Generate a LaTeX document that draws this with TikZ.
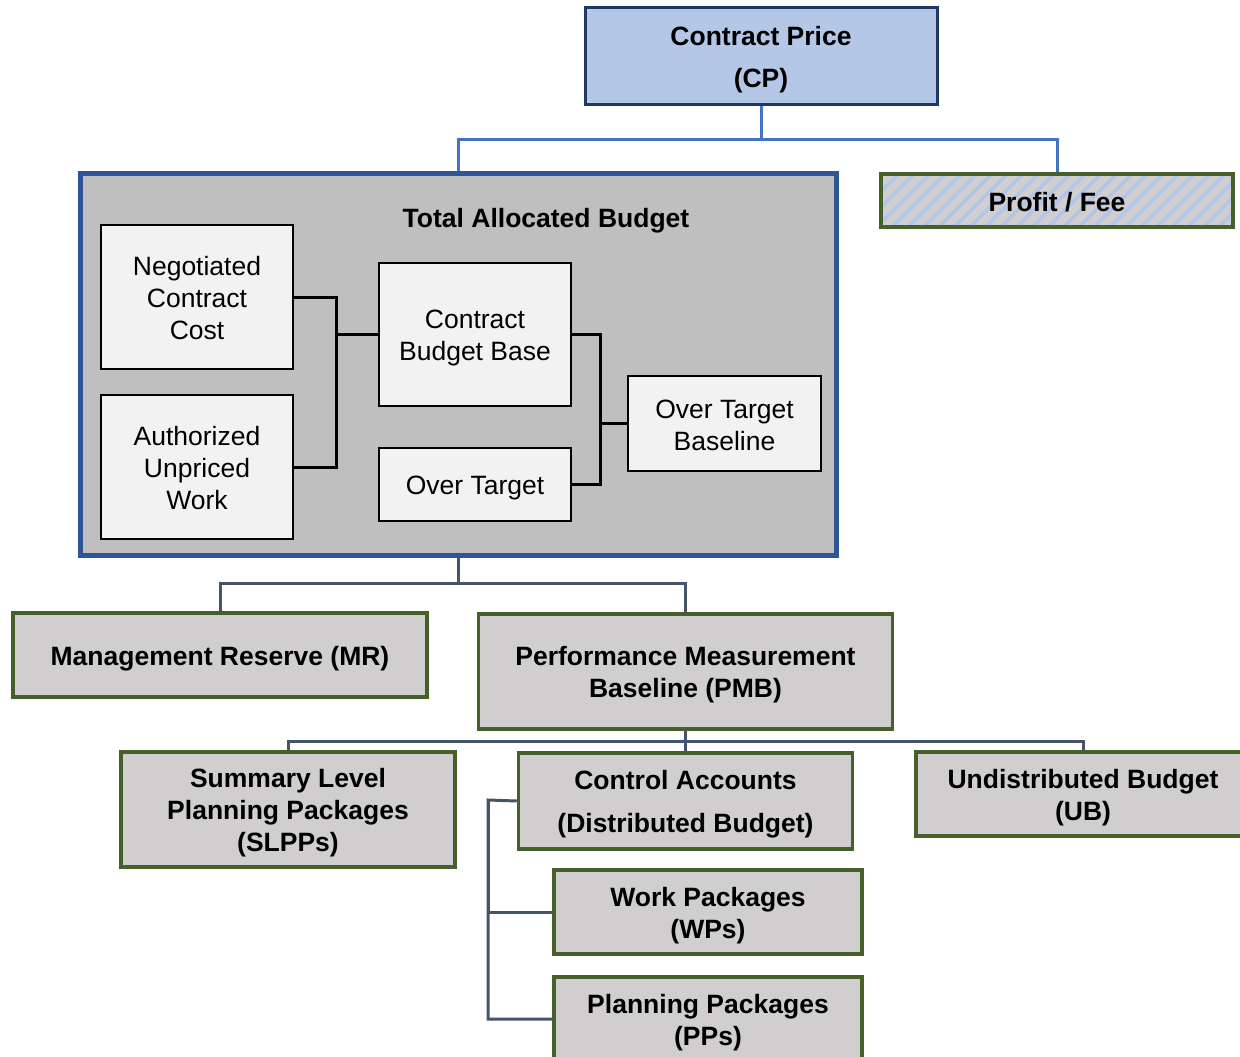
\documentclass[tikz,border=0pt]{standalone}
\usepackage{fontspec}
\setmainfont{Liberation Sans}
\usetikzlibrary{patterns.meta,calc}
\definecolor{cpfill}{HTML}{B4C7E7}
\definecolor{cpdraw}{HTML}{1F3864}
\definecolor{cpline}{HTML}{4472C4}
\definecolor{tabfill}{HTML}{BFBFBF}
\definecolor{tabdraw}{HTML}{2F5597}
\definecolor{innerfill}{HTML}{F2F2F2}
\definecolor{grayfill}{HTML}{D0CECE}
\definecolor{greendraw}{HTML}{46602A}
\definecolor{slate}{HTML}{44546A}
\definecolor{hatch}{HTML}{B0C6EA}
\begin{document}
\begin{tikzpicture}[x=1pt,y=-1pt,
  txt/.style={align=center,inner sep=0pt,yshift=-3.5pt,font=\fontsize{26.5}{32}\selectfont},
  btxt/.style={align=center,inner sep=0pt,yshift=-3.5pt,font=\fontsize{26.5}{32}\selectfont\bfseries},
  cpbox/.style={draw=cpdraw,fill=cpfill,line width=3pt,inner sep=0pt},
  greenbox/.style={draw=greendraw,fill=grayfill,line width=3.5pt,inner sep=0pt},
  innerbox/.style={draw=black,fill=innerfill,line width=2.5pt,inner sep=0pt},
  tabbox/.style={draw=tabdraw,fill=tabfill,line width=5pt,inner sep=0pt},
  bluecon/.style={draw=cpline,line width=3pt},
  blackcon/.style={draw=black,line width=3pt},
  slatecon/.style={draw=slate,line width=3pt}]
\clip (0,0) rectangle (1240,1057);
\fill[white] (0,0) rectangle (1240,1057);

% top
\node[cpbox,minimum width=352,minimum height=96,label={[btxt]center:Contract Price\\[10pt](CP)}] (cp) at (761,56) {};
\node[tabbox,minimum width=756,minimum height=382] (tab) at (458,364) {};
\node[greenbox,minimum width=352,minimum height=53] (pfbg) at (1057,200.5) {};
\path[pattern={Lines[angle=45,distance=11pt,line width=3.5pt]},pattern color=hatch] (pfbg.north west) rectangle (pfbg.south east);
\node[draw=greendraw,line width=3.5pt,inner sep=0pt,minimum width=352,minimum height=53,label={[btxt,yshift=1.5pt]center:Profit / Fee}] (pf) at (1057,200.5) {};

\coordinate (j1) at (761,139);
\draw[bluecon] (cp.south) -- (j1);
\draw[bluecon] (tab.north) |- (j1) -| (pf.north);

% inside TAB
\node[btxt] (title) at (546,217.5) {Total Allocated Budget};
\node[innerbox,minimum width=192,minimum height=144,label={[txt,yshift=2pt]center:Negotiated\\Contract\\Cost}] (ncc) at (197,297) {};
\node[innerbox,minimum width=192,minimum height=144,label={[txt,yshift=2pt]center:Authorized\\Unpriced\\Work}] (auw) at (197,467) {};
\node[innerbox,minimum width=192,minimum height=143,label={[txt]center:Contract\\Budget Base}] (cbb) at (475,334.5) {};
\node[innerbox,minimum width=192,minimum height=73,label={[txt]center:Over Target}] (ot) at (475,484.5) {};
\node[innerbox,minimum width=193,minimum height=95,label={[txt,yshift=1.5pt]center:Over Target\\Baseline}] (otb) at (724.5,423.5) {};

\coordinate (j2) at (336,334.5);
\draw[blackcon] (ncc.east) -| (j2);
\draw[blackcon] (auw.east) -| (j2);
\draw[blackcon] (j2) -- (cbb.west);
\coordinate (j3) at (600,423.5);
\draw[blackcon] (cbb.east) -| (j3);
\draw[blackcon] (ot.east) -| (j3);
\draw[blackcon] (j3) -- (otb.west);

% second level
\node[greenbox,minimum width=414,minimum height=84,label={[btxt]center:Management Reserve (MR)}] (mr) at (220,655) {};
\node[greenbox,minimum width=414,minimum height=115,label={[btxt]center:Performance Measurement\\Baseline (PMB)}] (pmb) at (685.5,671.5) {};
\coordinate (j4) at (458,583);
\draw[slatecon] (tab.south) -- (j4);
\draw[slatecon] (mr.north) |- (j4) -| (pmb.north);

% third level
\node[greenbox,minimum width=334,minimum height=115,label={[btxt]center:Summary Level\\Planning Packages\\(SLPPs)}] (slpp) at (288,809.5) {};
\node[greenbox,minimum width=334,minimum height=96,label={[btxt]center:Control Accounts\\[11pt](Distributed Budget)}] (ca) at (685.5,801) {};
\node[greenbox,minimum width=334,minimum height=84,label={[btxt]center:Undistributed Budget\\(UB)}] (ub) at (1083,794) {};
\coordinate (j5) at (685.5,741);
\draw[slatecon] (pmb.south) -- (j5);
\draw[slatecon] (slpp.north) |- (j5) -| (ub.north);
\draw[slatecon] (j5) -- (ca.north);

% fourth level
\node[greenbox,minimum width=308,minimum height=84,label={[btxt]center:Work Packages\\(WPs)}] (wp) at (708,912) {};
\node[greenbox,minimum width=308,minimum height=84,label={[btxt]center:Planning Packages\\(PPs)}] (pp) at (708,1019) {};
\coordinate (j6) at (488,800);
\draw[slatecon] (ca.west) -- (j6) |- (pp.west);
\draw[slatecon] (j6) |- (wp.west);
\end{tikzpicture}
\end{document}
